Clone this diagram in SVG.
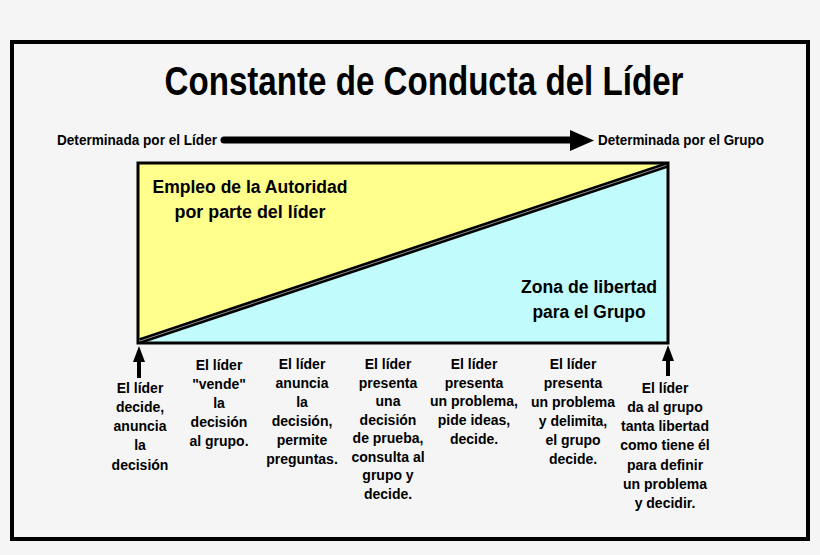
<svg xmlns="http://www.w3.org/2000/svg" width="820" height="555" viewBox="0 0 820 555">
<style>
  text { font-family: "Liberation Sans", Arial, sans-serif; font-weight: bold; fill: #000; }
  .lbl { font-size: 14px; text-anchor: middle; }
  .box { font-size: 18px; text-anchor: middle; }
</style>
<defs>
  <marker id="upHead" markerWidth="12" markerHeight="16" refX="6" refY="0" orient="auto-start-reverse" markerUnits="userSpaceOnUse" viewBox="0 0 12 16">
    <path d="M0,16 L6,0 L12,16 Z" fill="#000"/>
  </marker>
</defs>
<rect x="0" y="0" width="820" height="555" fill="#f5f5f5"/>
<rect x="12" y="42" width="796" height="497" fill="#f5f5f5" stroke="#000" stroke-width="4"/>

<g id="title">
  <text x="424" y="95" font-size="41" text-anchor="middle" textLength="519" lengthAdjust="spacingAndGlyphs">Constante de Conducta del Líder</text>
</g>

<g id="label-lider">
  <text x="57" y="145" font-size="14" textLength="160" lengthAdjust="spacingAndGlyphs">Determinada por el Líder</text>
</g>
<g id="label-grupo">
  <text x="598" y="145" font-size="14" textLength="166" lengthAdjust="spacingAndGlyphs">Determinada por el Grupo</text>
</g>

<g id="chart">
  <polygon points="138,163 668,163 138,343" fill="#ffff8c"/>
  <polygon points="668,163 668,343 138,343" fill="#c2fbfc"/>
  <line x1="140" y1="341" x2="667" y2="165" stroke="#000" stroke-width="6"/>
  <line x1="140" y1="341" x2="667" y2="165" stroke="#8a8a8a" stroke-width="1"/>
  <rect x="138" y="163" width="530" height="180" fill="none" stroke="#000" stroke-width="3"/>
</g>

<g id="autoridad">
  <text class="box" x="250" y="193" textLength="195" lengthAdjust="spacingAndGlyphs">Empleo de la Autoridad</text>
  <text class="box" x="250" y="218" textLength="151" lengthAdjust="spacingAndGlyphs">por parte del líder</text>
</g>
<g id="libertad">
  <text class="box" x="589" y="293" textLength="136" lengthAdjust="spacingAndGlyphs">Zona de libertad</text>
  <text class="box" x="589" y="318" textLength="113" lengthAdjust="spacingAndGlyphs">para el Grupo</text>
</g>

<g id="connectors">
  <line x1="224" y1="140" x2="572" y2="140" stroke="#000" stroke-width="7" stroke-linecap="round"/>
  <polygon points="570,130 594,140.5 570,151" fill="#000"/>
  <line x1="139" y1="378" x2="139" y2="358" stroke="#000" stroke-width="4"/>
  <polygon points="133,362 139,346 145,362" fill="#000"/>
  <line x1="668" y1="376" x2="668" y2="358" stroke="#000" stroke-width="4"/>
  <polygon points="662,361 668,345 674,361" fill="#000"/>
</g>

<g id="col1" class="lbl">
  <text class="lbl" x="140" y="393">El líder</text>
  <text class="lbl" x="140" y="412">decide,</text>
  <text class="lbl" x="140" y="431">anuncia</text>
  <text class="lbl" x="140" y="450">la</text>
  <text class="lbl" x="140" y="470">decisión</text>
</g>
<g id="col2">
  <text class="lbl" x="219" y="370">El líder</text>
  <text class="lbl" x="219" y="389">"vende"</text>
  <text class="lbl" x="219" y="408">la</text>
  <text class="lbl" x="219" y="427">decisión</text>
  <text class="lbl" x="219" y="446">al grupo.</text>
</g>
<g id="col3">
  <text class="lbl" x="302" y="369">El líder</text>
  <text class="lbl" x="302" y="388">anuncia</text>
  <text class="lbl" x="302" y="407">la</text>
  <text class="lbl" x="302" y="426">decisión,</text>
  <text class="lbl" x="302" y="445">permite</text>
  <text class="lbl" x="302" y="464">preguntas.</text>
</g>
<g id="col4">
  <text class="lbl" x="388" y="369">El líder</text>
  <text class="lbl" x="388" y="388">presenta</text>
  <text class="lbl" x="388" y="406">una</text>
  <text class="lbl" x="388" y="425">decisión</text>
  <text class="lbl" x="388" y="443">de prueba,</text>
  <text class="lbl" x="388" y="462">consulta al</text>
  <text class="lbl" x="388" y="480">grupo y</text>
  <text class="lbl" x="388" y="499">decide.</text>
</g>
<g id="col5">
  <text class="lbl" x="474" y="369">El líder</text>
  <text class="lbl" x="474" y="388">presenta</text>
  <text class="lbl" x="474" y="406">un problema,</text>
  <text class="lbl" x="474" y="425">pide ideas,</text>
  <text class="lbl" x="474" y="444">decide.</text>
</g>
<g id="col6">
  <text class="lbl" x="573" y="369">El líder</text>
  <text class="lbl" x="573" y="388">presenta</text>
  <text class="lbl" x="573" y="407">un problema</text>
  <text class="lbl" x="573" y="426">y delimita,</text>
  <text class="lbl" x="573" y="445">el grupo</text>
  <text class="lbl" x="573" y="464">decide.</text>
</g>
<g id="col7">
  <text class="lbl" x="665" y="393">El líder</text>
  <text class="lbl" x="665" y="412">da al grupo</text>
  <text class="lbl" x="665" y="431">tanta libertad</text>
  <text class="lbl" x="665" y="450">como tiene él</text>
  <text class="lbl" x="665" y="470">para definir</text>
  <text class="lbl" x="665" y="489">un problema</text>
  <text class="lbl" x="665" y="508">y decidir.</text>
</g>
</svg>
